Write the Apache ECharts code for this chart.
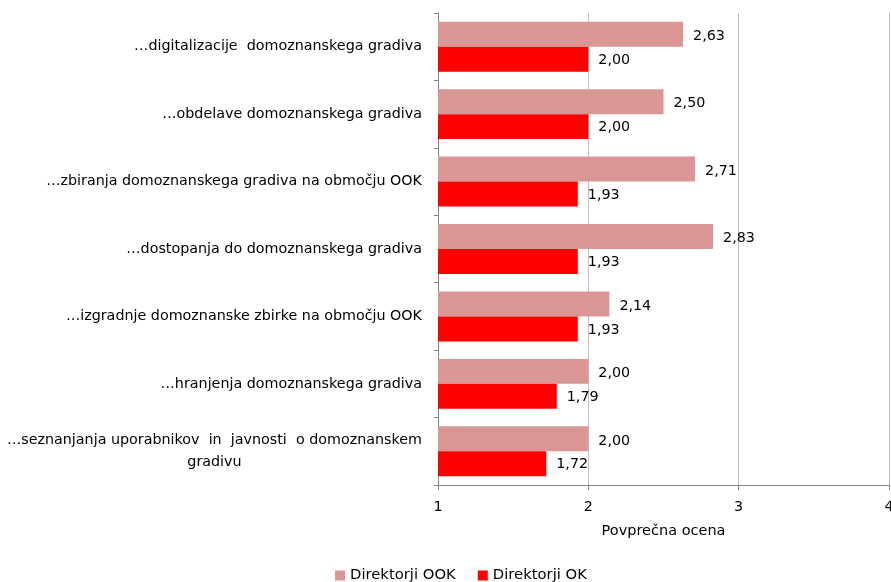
<!DOCTYPE html>
<html>
<head>
<meta charset="utf-8">
<script src="https://cdn.jsdelivr.net/npm/echarts@6/dist/echarts.min.js"></script>
<style>
  html, body { margin: 0; padding: 0; background: #fff; }
  #chart { width: 891px; height: 582px; }
</style>
</head>
<body>
<div id="chart"></div>
<script>
var categories = [
  '…digitalizacije  domoznanskega gradiva',
  '…obdelave domoznanskega gradiva',
  '…zbiranja domoznanskega gradiva na območju OOK',
  '…dostopanja do domoznanskega gradiva',
  '…izgradnje domoznanske zbirke na območju OOK',
  '…hranjenja domoznanskega gradiva',
  '…seznanjanja uporabnikov  in  javnosti  o domoznanskem\ngradivu'
];
var seriesNames = ['Direktorji OOK', 'Direktorji OK'];
var ookData = [2.63, 2.50, 2.71, 2.83, 2.14, 2.00, 2.00];
var okData = [2.00, 2.00, 1.93, 1.93, 1.93, 1.79, 1.72];

var font = 'DejaVu Sans';
var fs = 14.3;

function fmt(p) {
  return p.value.toFixed(2).replace('.', ',');
}

var chart = echarts.init(document.getElementById('chart'));
var option = {
  animation: false,
  textStyle: { fontFamily: font },
  grid: {
    left: 438,
    right: 2,
    top: 13,
    bottom: 97,
    outerBoundsMode: 'none'
  },
  legend: {
    data: seriesNames,
    bottom: -6,
    left: 330,
    itemWidth: 10,
    itemHeight: 10,
    itemGap: 22,
    icon: 'rect',
    textStyle: { fontFamily: font, fontSize: 14.8, color: '#000' }
  },
  xAxis: {
    type: 'value',
    min: 1,
    max: 4,
    interval: 1,
    name: 'Povprečna ocena',
    nameLocation: 'middle',
    nameGap: 39,
    nameTextStyle: { fontFamily: font, fontSize: 14.5, color: '#000' },
    axisLine: { show: true, lineStyle: { color: '#868686' } },
    axisTick: { show: true, length: 5, lineStyle: { color: '#868686' } },
    axisLabel: { fontFamily: font, fontSize: fs, color: '#000', margin: 15 },
    splitLine: { lineStyle: { color: '#c0c0c0' } }
  },
  yAxis: {
    type: 'category',
    data: categories,
    inverse: true,
    axisLine: { show: true, lineStyle: { color: '#868686' } },
    axisTick: { show: true, length: 4, lineStyle: { color: '#868686' } },
    axisLabel: {
      margin: 16,
      fontFamily: font,
      fontSize: fs,
      color: '#000',
      lineHeight: 22,
      formatter: function (v) {
        return v.split('\n').map(function (s) { return '{c|' + s + '}'; }).join('\n');
      },
      rich: {
        c: { align: 'center', fontFamily: font, fontSize: fs, color: '#000', lineHeight: 22 }
      }
    }
  },
  series: [
    {
      name: seriesNames[0],
      type: 'bar',
      data: ookData,
      barGap: '0%',
      barCategoryGap: '26%',
      itemStyle: { color: '#d99694' },
      label: {
        show: true,
        position: 'right',
        distance: 10,
        offset: [0, 2],
        formatter: fmt,
        fontFamily: font,
        fontSize: fs,
        color: '#000'
      }
    },
    {
      name: seriesNames[1],
      type: 'bar',
      data: okData,
      itemStyle: { color: '#ff0000' },
      label: {
        show: true,
        position: 'right',
        distance: 10,
        offset: [0, 1],
        formatter: fmt,
        fontFamily: font,
        fontSize: fs,
        color: '#000'
      }
    }
  ]
};
chart.setOption(option);
window.addEventListener('resize', function () {
  chart.resize();
});
</script>
</body>
</html>
